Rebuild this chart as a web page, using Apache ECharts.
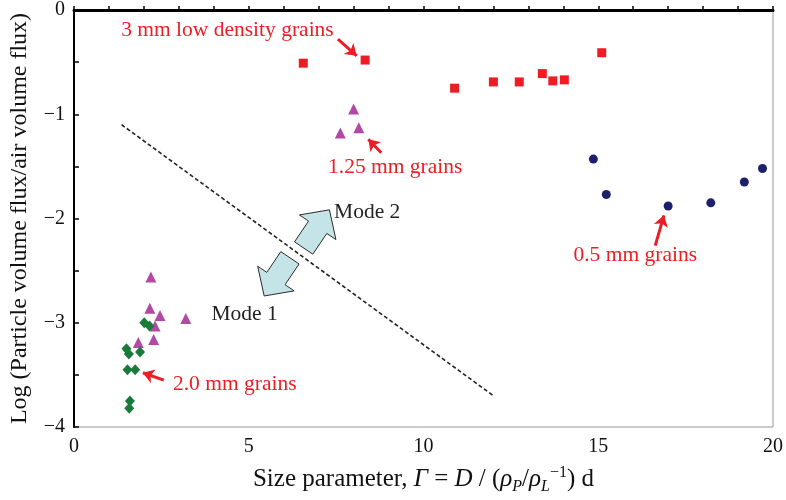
<!DOCTYPE html>
<html>
<head>
<meta charset="utf-8">
<script src="https://cdn.jsdelivr.net/npm/echarts@6/dist/echarts.min.js"></script>
<style>
  html, body { margin: 0; padding: 0; background: #fff; }
  #chart { width: 786px; height: 500px; }
</style>
</head>
<body>
<div id="chart"></div>
<script>
  const FONT = '"Liberation Serif", "DejaVu Serif", serif'
  const RED = '#ee1c25'

  // data: [size parameter, log flux ratio]
  const grains3mm = [[6.56, -0.51], [8.33, -0.48], [10.89, -0.75], [12.0, -0.69], [12.74, -0.69],
    [13.40, -0.61], [13.70, -0.68], [14.03, -0.67], [15.10, -0.41]]
  const grains05mm = [[14.86, -1.43], [15.23, -1.77], [17.0, -1.88], [18.22, -1.85], [19.18, -1.65], [19.70, -1.52]]
  const grains125mm = [[8.0, -0.95], [7.62, -1.18], [8.15, -1.13],
    [2.20, -2.56], [2.17, -2.86], [2.46, -2.93], [2.32, -3.03], [3.2, -2.96], [2.28, -3.16], [1.84, -3.19]]
  const grains2mm = [[2.01, -3.0], [2.16, -3.03], [1.50, -3.25], [1.57, -3.30], [1.89, -3.28],
    [1.53, -3.45], [1.75, -3.45], [1.60, -3.75], [1.58, -3.82]]
  const modeBoundary = [[1.36, -1.10], [12.0, -3.70]]

  const xTicks = [0, 5, 10, 15, 20]
  const yTicks = [0, -1, -2, -3, -4]

  // annotations: text, position
  const notes = [
    { text: '3 mm low density grains', at: [4.39, -0.20], color: RED },
    { text: '1.25 mm grains', at: [9.19, -1.51], color: RED },
    { text: '0.5 mm grains', at: [16.06, -2.35], color: RED },
    { text: '2.0 mm grains', at: [4.60, -3.59], color: RED },
    { text: 'Mode 2', at: [8.39, -1.94], color: '#222' },
    { text: 'Mode 1', at: [4.88, -2.92], color: '#222' }
  ]
  // small red pointer arrows: from, to
  const pointers = [
    [[7.55, -0.28], [8.09, -0.44]],
    [[8.79, -1.37], [8.42, -1.24]],
    [[16.63, -2.26], [16.88, -1.97]],
    [[2.57, -3.55], [1.97, -3.48]]
  ]
  // block arrows: centre, direction (screen unit vector)
  const modeArrows = [
    { at: [6.94, -2.10], dir: [0.56, -0.83] },
    { at: [5.81, -2.56], dir: [-0.56, 0.83] }
  ]

  const fmtMinus = v => String(v).replace('-', '\u2212')

  const chart = echarts.init(document.getElementById('chart'))

  const scatter = (data, symbol, size, color) => ({
    type: 'scatter', data: data, symbol: symbol, symbolSize: size,
    itemStyle: { color: color, opacity: 1 }, z: 5
  })

  chart.setOption({
    animation: false,
    backgroundColor: '#fff',
    grid: {
      left: 73, right: 9, top: 8, bottom: 69,
      show: true, borderColor: '#999', borderWidth: 1
    },
    xAxis: [{
      type: 'value', min: 0, max: 20, interval: 1,
      axisLine: { lineStyle: { color: '#000', width: 2 } },
      axisTick: { inside: true, length: 4, lineStyle: { color: '#000', width: 1.5 } },
      splitLine: { show: false },
      axisLabel: {
        margin: 10, color: '#111', fontSize: 20, fontFamily: FONT,
        formatter: v => xTicks.indexOf(v) >= 0 ? fmtMinus(v) : ''
      },
      name: '{n|Size parameter, }{i|\u0393}{n| = }{i|D}{n| / (}{i|\u03c1}{sub|P}{n|/}{i|\u03c1}{sub|L}{sup|\u22121}{n|) d}',
      nameLocation: 'middle', nameGap: 36,
      nameTextStyle: {
        color: '#111', fontSize: 25, fontFamily: FONT,
        rich: {
          n: { fontSize: 25, fontFamily: FONT, color: '#111' },
          i: { fontSize: 25, fontFamily: FONT, fontStyle: 'italic', color: '#111' },
          sub: { fontSize: 16, fontFamily: FONT, fontStyle: 'italic', color: '#111', padding: [16, 0, 0, 0] },
          sup: { fontSize: 16, fontFamily: FONT, color: '#111', padding: [0, 0, 12, 0] }
        }
      }
    }, {
      type: 'value', position: 'top', min: 0, max: 20,
      axisLine: { show: true, lineStyle: { color: '#000', width: 3 } },
      axisTick: { show: false }, axisLabel: { show: false }, splitLine: { show: false }
    }],
    yAxis: {
      type: 'value', min: -4, max: 0, interval: 0.5,
      axisLine: { show: true, lineStyle: { color: '#000', width: 2 } },
      axisTick: { show: true, inside: true, length: 5, lineStyle: { color: '#000', width: 1.5 } },
      splitLine: { show: false },
      axisLabel: {
        margin: 9, color: '#111', fontSize: 20, fontFamily: FONT,
        formatter: v => yTicks.indexOf(v) >= 0 ? fmtMinus(v) : ''
      },
      name: 'Log (Particle volume flux/air volume flux)',
      nameLocation: 'middle', nameGap: 42, nameRotate: 90,
      nameTextStyle: { color: '#111', fontSize: 24, fontFamily: FONT }
    },
    series: [
      {
        type: 'line', data: modeBoundary, symbol: 'none', z: 3,
        lineStyle: { color: '#222', width: 1.6, type: [4, 2.5] }
      },
      scatter(grains3mm, 'rect', 9, RED),
      scatter(grains05mm, 'circle', 9, '#1e1f6b'),
      scatter(grains125mm, 'triangle', 11, '#b24aa4'),
      scatter(grains2mm, 'diamond', [10, 11], '#1a7a3c'),
      {
        type: 'lines', coordinateSystem: 'cartesian2d', z: 6,
        symbol: ['none', 'arrow'], symbolSize: 11,
        lineStyle: { color: RED, width: 3, opacity: 1 },
        data: pointers.map(p => ({ coords: p }))
      }
    ]
  })

  // annotation text and the two mode arrows, placed from data coordinates
  const graphics = []
  notes.forEach(n => {
    const p = chart.convertToPixel({ gridIndex: 0 }, n.at)
    graphics.push({
      type: 'text', x: p[0], y: p[1], z: 10,
      style: { text: n.text, fill: n.color, font: '21.5px ' + FONT, align: 'center', verticalAlign: 'middle' }
    })
  })
  modeArrows.forEach(a => {
    const c = chart.convertToPixel({ gridIndex: 0 }, a.at)
    const d = a.dir
    const nv = [-d[1], d[0]]
    const local = [[-23, -11], [2, -11], [2, -22], [23, 0], [2, 22], [2, 11], [-23, 11]]
    const pts = local.map(q => [c[0] + q[0] * d[0] + q[1] * nv[0], c[1] + q[0] * d[1] + q[1] * nv[1]])
    graphics.push({
      type: 'polygon', z: 8,
      shape: { points: pts },
      style: { fill: '#c5e4e8', stroke: '#2b2b2b', lineWidth: 1 }
    })
  })
  chart.setOption({ graphic: graphics })
</script>
</body>
</html>
